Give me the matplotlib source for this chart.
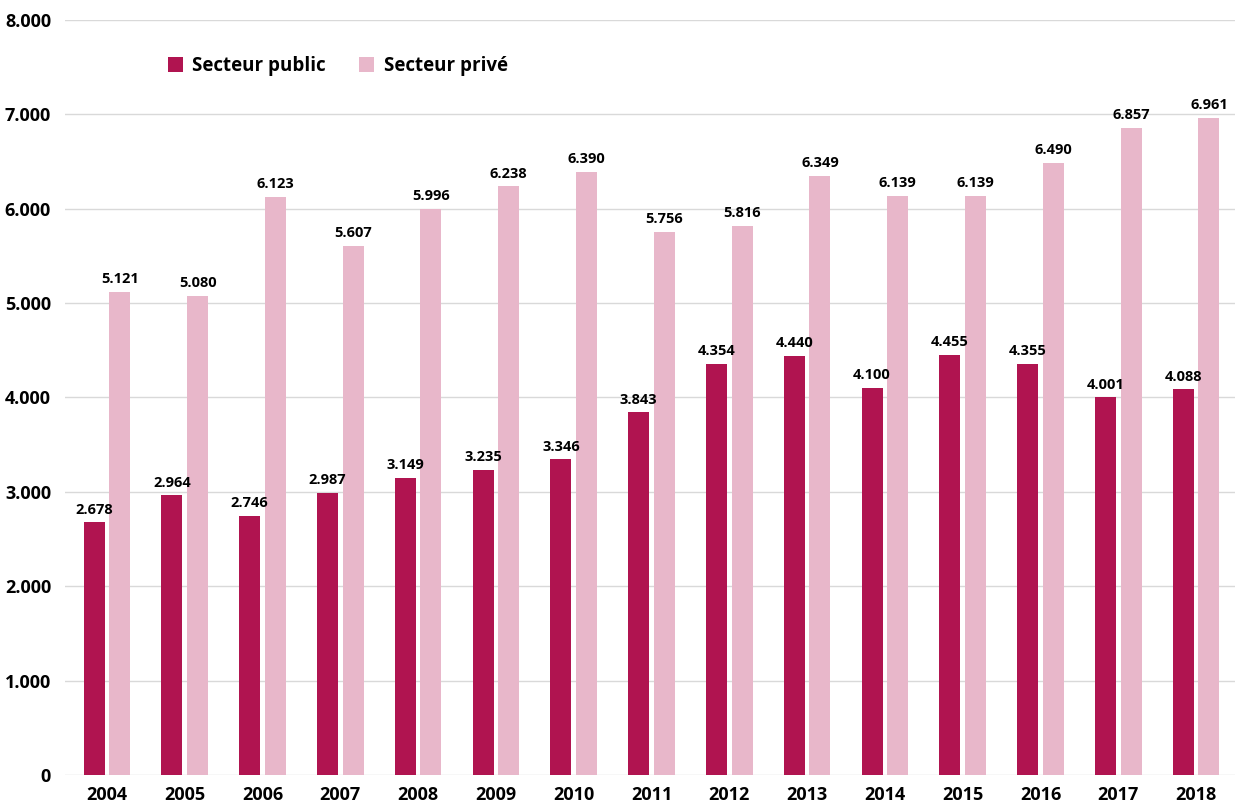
import matplotlib.pyplot as plt
import numpy as np

years = ['2004', '2005', '2006', '2007', '2008', '2009', '2010', '2011',
         '2012', '2013', '2014', '2015', '2016', '2017', '2018']
public = [2678, 2964, 2746, 2987, 3149, 3235, 3346, 3843,
          4354, 4440, 4100, 4455, 4355, 4001, 4088]
prive = [5121, 5080, 6123, 5607, 5996, 6238, 6390, 5756,
         5816, 6349, 6139, 6139, 6490, 6857, 6961]


def fmt(v):
    return '{:,}'.format(v).replace(',', '.')


plt.rcParams['font.family'] = ['Open Sans', 'DejaVu Sans']
plt.rcParams['font.weight'] = 'bold'

fig = plt.figure(figsize=(12.35, 8.07), dpi=100)
ax = fig.add_axes([0.0526, 0.0397, 0.9474, 0.9355])

x = np.arange(len(years))
w = 0.27
off = 0.165
b1 = ax.bar(x - off, public, w, color='#B01450', label='Secteur public')
b2 = ax.bar(x + off, prive, w, color='#E8B7CA', label='Secteur privé')

for bars, vals in ((b1, public), (b2, prive)):
    for r, v in zip(bars, vals):
        ax.text(r.get_x() + r.get_width() / 2, v + 60, fmt(v),
                ha='center', va='bottom', fontsize=10.5, fontweight='bold')

ax.set_ylim(0, 8000)
ax.set_xlim(-0.54, 14.5)
ax.set_yticks(range(0, 8001, 1000))
ax.set_yticklabels([fmt(v) for v in range(0, 8001, 1000)])
ax.set_xticks(x)
ax.set_xticklabels(years)
ax.tick_params(length=0, labelsize=13, pad=8)
ax.tick_params(axis='y', pad=10)
ax.grid(axis='y', color='#D9D9D9', linewidth=1)
ax.set_axisbelow(True)
for s in ax.spines.values():
    s.set_visible(False)

leg = fig.legend(handles=[b1, b2], loc='center left', bbox_to_anchor=(0.122, 0.918),
                 ncol=2, frameon=False, fontsize=13.5, handlelength=0.8,
                 handleheight=0.8, handletextpad=0.5, columnspacing=1.8)

fig.savefig('out.png', dpi=100)
